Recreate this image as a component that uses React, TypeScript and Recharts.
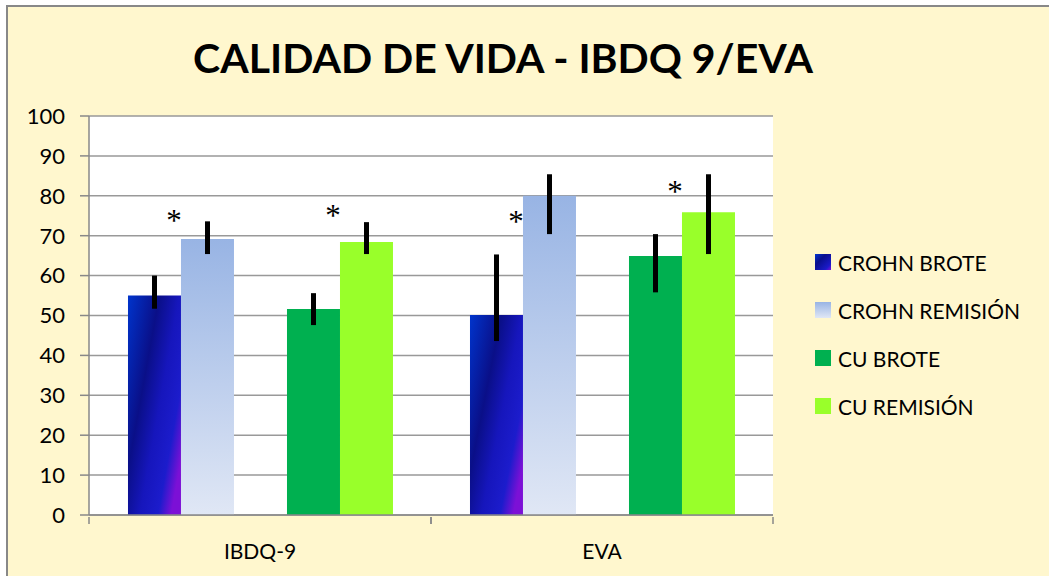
import React from 'react';
import { BarChart, Bar, XAxis, YAxis, CartesianGrid, ErrorBar, LabelList } from 'recharts';

const categories = ['IBDQ-9', 'EVA'];

const crohnBrote = [55, 50.1];
const crohnRemision = [69.2, 80];
const cuBrote = [51.6, 64.9];
const cuRemision = [68.4, 75.9];

// error bars as [below, above]
const crohnBroteErr = [[3.3, 5], [6.5, 15.2]];
const crohnRemisionErr = [[3.8, 4.4], [9.6, 5.4]];
const cuBroteErr = [[4, 4], [9.1, 5.5]];
const cuRemisionErr = [[3, 5], [10.5, 9.5]];

// height of the "*" marks (value units), between each pair of bars
const crohnStar = [74.4, 74.2];
const cuStar = [75.7, 81.8];

const yTicks = [0, 10, 20, 30, 40, 50, 60, 70, 80, 90, 100];

const legendItems = [
  { name: 'CROHN BROTE', bg: 'linear-gradient(135deg, #0035d0 0%, #0a0f8c 35%, #1a1ac8 80%, #8010d8 100%)' },
  { name: 'CROHN REMISIÓN', bg: 'linear-gradient(180deg, #98b4e4 0%, #e0e7f5 100%)' },
  { name: 'CU BROTE', bg: '#00b050' },
  { name: 'CU REMISIÓN', bg: '#99ff2a' },
];

const data = categories.map((c, i) => ({
  name: c,
  crohnBrote: crohnBrote[i],
  crohnRemision: crohnRemision[i],
  spacer: null,
  cuBrote: cuBrote[i],
  cuRemision: cuRemision[i],
  crohnBroteErr: crohnBroteErr[i],
  crohnRemisionErr: crohnRemisionErr[i],
  cuBroteErr: cuBroteErr[i],
  cuRemisionErr: cuRemisionErr[i],
  crohnStar: crohnStar[i],
  cuStar: cuStar[i],
}));

const FONT = 'Lato, "Noto Sans", sans-serif';

const starLabel = (key: 'crohnStar' | 'cuStar') => (props: any) => {
  const { x, y, width, height, value, index } = props;
  if (value == null || !height) return null;
  const perUnit = height / value;
  const sy = y + height - data[index][key] * perUnit;
  return (
    <text x={x + width - 7} y={sy + 13} textAnchor="middle" fontSize={31} fontFamily='"Liberation Serif", serif' fill="#000">
      *
    </text>
  );
};

const XTick = (props: any) => {
  const { x, y, payload } = props;
  const half = payload && payload.offset ? payload.offset : 171;
  return (
    <g>
      <line x1={x - half} x2={x - half} y1={y} y2={y + 7} stroke="#888" strokeWidth={1.5} />
      <line x1={x + half} x2={x + half} y1={y} y2={y + 7} stroke="#888" strokeWidth={1.5} />
      <text x={x} y={y + 42} textAnchor="middle" fontSize={21} fontFamily={FONT} fill="#000">
        {payload.value}
      </text>
    </g>
  );
};

const LegendBox = () => (
  <div style={{ position: 'absolute', left: 815, top: 238, fontFamily: FONT }}>
    {legendItems.map((it) => (
      <div key={it.name} style={{ display: 'flex', alignItems: 'center', height: 48 }}>
        <div style={{ width: 16, height: 16, background: it.bg, marginRight: 7 }} />
        <span style={{ fontSize: 21, color: '#000', whiteSpace: 'nowrap' }}>{it.name}</span>
      </div>
    ))}
  </div>
);

export default function App() {
  return (
    <div style={{ position: 'absolute', left: 0, top: 0, width: 1049, height: 576, background: '#fff', overflow: 'hidden' }}>
      <div
        style={{
          position: 'absolute',
          left: 6,
          top: 5,
          width: 1049,
          height: 576,
          background: '#fff7ce',
          borderLeft: '2px solid #888',
          borderTop: '2px solid #888',
        }}
      />
      <div
        style={{
          position: 'absolute',
          left: 0,
          top: 33,
          width: 1006,
          textAlign: 'center',
          fontFamily: FONT,
          fontWeight: 700,
          fontSize: 41,
          lineHeight: '50px',
          color: '#000',
        }}
      >
        CALIDAD DE VIDA - IBDQ 9/EVA
      </div>
      <div style={{ position: 'absolute', left: 0, top: 0 }}>
        <BarChart
          width={1049}
          height={576}
          data={data}
          margin={{ top: 116, right: 276, bottom: 11, left: 0 }}
          barCategoryGap="11.4%"
          barGap={0}
        >
          <defs>
            <linearGradient id="gCrohnBrote" x1="0" y1="0" x2="1" y2="0.75">
              <stop offset="0%" stopColor="#0034cc" />
              <stop offset="38%" stopColor="#0a0f88" />
              <stop offset="62%" stopColor="#1616bc" />
              <stop offset="84%" stopColor="#1c1ccc" />
              <stop offset="100%" stopColor="#7c10d6" />
            </linearGradient>
            <linearGradient id="gCrohnRem" x1="0" y1="0" x2="0" y2="1">
              <stop offset="0%" stopColor="#98b4e4" />
              <stop offset="100%" stopColor="#e0e7f5" />
            </linearGradient>
          </defs>
          <CartesianGrid vertical={false} stroke="#999" strokeWidth={1.5} fill="#fff" />
          <XAxis
            dataKey="name"
            height={50}
            axisLine={{ stroke: '#888', strokeWidth: 1.5 }}
            tickLine={false}
            tickSize={0}
            tick={<XTick />}
            interval={0}
          />
          <YAxis
            width={89}
            domain={[0, 100]}
            ticks={yTicks}
            interval={0}
            axisLine={{ stroke: '#888', strokeWidth: 1.5 }}
            tickLine={{ stroke: '#888', strokeWidth: 1.5 }}
            tickSize={9}
            tickMargin={15}
            tick={{ fontSize: 22, fontFamily: FONT, fill: '#000' }}
          />
          <Bar dataKey="crohnBrote" name="CROHN BROTE" fill="url(#gCrohnBrote)" isAnimationActive={false}>
            <ErrorBar dataKey="crohnBroteErr" width={0} strokeWidth={5} stroke="#000" direction="y" isAnimationActive={false} />
            <LabelList dataKey="crohnBrote" content={starLabel('crohnStar')} />
          </Bar>
          <Bar dataKey="crohnRemision" name="CROHN REMISIÓN" fill="url(#gCrohnRem)" isAnimationActive={false}>
            <ErrorBar dataKey="crohnRemisionErr" width={0} strokeWidth={5} stroke="#000" direction="y" isAnimationActive={false} />
          </Bar>
          <Bar dataKey="spacer" legendType="none" fill="none" isAnimationActive={false} />
          <Bar dataKey="cuBrote" name="CU BROTE" fill="#00b050" isAnimationActive={false}>
            <ErrorBar dataKey="cuBroteErr" width={0} strokeWidth={5} stroke="#000" direction="y" isAnimationActive={false} />
            <LabelList dataKey="cuBrote" content={starLabel('cuStar')} />
          </Bar>
          <Bar dataKey="cuRemision" name="CU REMISIÓN" fill="#99ff2a" isAnimationActive={false}>
            <ErrorBar dataKey="cuRemisionErr" width={0} strokeWidth={5} stroke="#000" direction="y" isAnimationActive={false} />
          </Bar>
        </BarChart>
      </div>
      <LegendBox />
    </div>
  );
}
